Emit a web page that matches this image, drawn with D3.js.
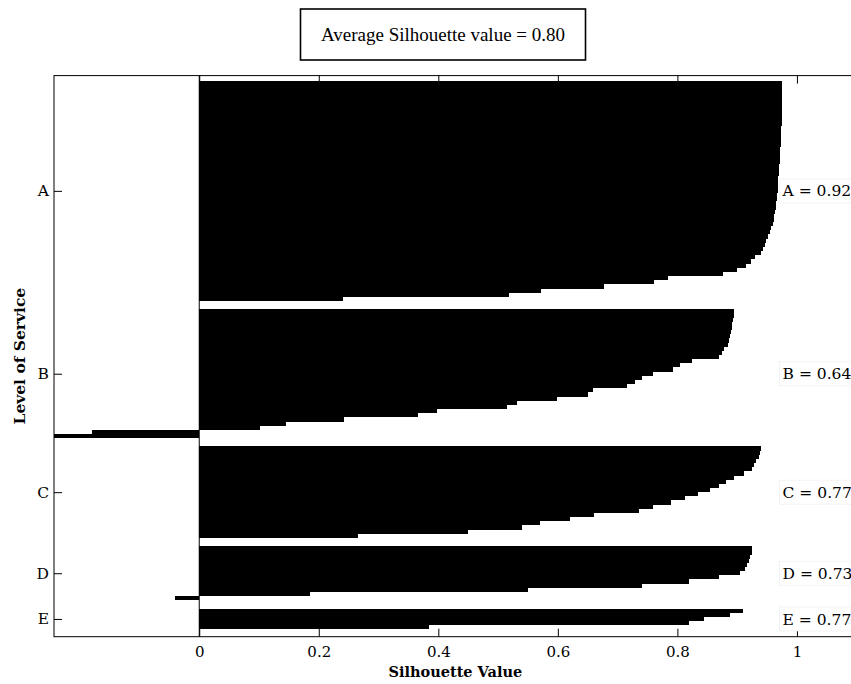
<!DOCTYPE html>
<html>
<head>
<meta charset="utf-8">
<script src="https://cdn.jsdelivr.net/npm/d3@7"></script>
<style>
  html, body { margin: 0; padding: 0; background: #fff; }
  svg { display: block; }
</style>
</head>
<body>
<svg id="chart" width="851" height="684"></svg>
<script>
// Cluster names and their mean silhouette values
const clusterNames = ["A", "B", "C", "D", "E"];
const clusterMeans = [0.92, 0.64, 0.77, 0.73, 0.77];
const averageSilhouette = 0.80;

// Per-point silhouette values, sorted descending inside each cluster
const silA = [0.975, 0.975, 0.975, 0.975, 0.975, 0.975, 0.975, 0.975, 0.975, 0.975,
              0.975, 0.974, 0.974, 0.974, 0.973, 0.973, 0.972, 0.972, 0.971, 0.971,
              0.970, 0.970, 0.970, 0.969, 0.969, 0.969, 0.968, 0.967, 0.966, 0.965,
              0.965, 0.964, 0.962, 0.961, 0.960, 0.957, 0.955, 0.952, 0.949, 0.946,
              0.943, 0.940, 0.930, 0.923, 0.915, 0.900, 0.877, 0.785, 0.761, 0.678,
              0.572, 0.519, 0.240];
const silB = [0.894, 0.894, 0.893, 0.892, 0.891, 0.889, 0.888, 0.886, 0.884, 0.878,
              0.874, 0.870, 0.824, 0.805, 0.793, 0.760, 0.741, 0.729, 0.715, 0.659,
              0.651, 0.598, 0.531, 0.515, 0.397, 0.366, 0.243, 0.145, 0.101, -0.180,
              -0.300];
const silC = [0.940, 0.938, 0.936, 0.932, 0.928, 0.924, 0.912, 0.895, 0.882, 0.870,
              0.855, 0.835, 0.812, 0.790, 0.760, 0.735, 0.660, 0.620, 0.570, 0.540,
              0.450, 0.265];
const silD = [0.925, 0.924, 0.922, 0.920, 0.917, 0.913, 0.905, 0.870, 0.820, 0.740,
              0.550, 0.185, -0.040];
const silE = [0.910, 0.888, 0.845, 0.820, 0.385];

// Axis ticks
const xTicks = [0, 0.2, 0.4, 0.6, 0.8, 1];
const xTickLabels = ["0", "0.2", "0.4", "0.6", "0.8", "1"];

// ---- layout ----
const W = 851, H = 684;
const plot = { left: 54, top: 75.6, right: 856.7, bottom: 636.7 };
const gapUnits = 2;      // empty rows between clusters
const topPad = 1.23;     // empty space above the first cluster (in rows)
const bottomPad = 1.77;  // empty space below the last cluster (in rows)

const serif = "'DejaVu Serif', 'Liberation Serif', serif";
const times = "'Liberation Serif', 'Times New Roman', serif";

const seriesList = [silA, silB, silC, silD, silE];
const clusters = clusterNames.map((name, i) => ({ name, values: seriesList[i], mean: clusterMeans[i] }));

// stack the clusters top to bottom, one row unit per point
let u = topPad;
const rows = [];
clusters.forEach(c => {
  c.start = u;
  c.values.forEach((v, j) => rows.push({ v, u: u + j, name: c.name }));
  u += c.values.length;
  c.center = (c.start + u) / 2;
  u += gapUnits;
});
const totalUnits = u - gapUnits + bottomPad;

const x = d3.scaleLinear().domain([-0.243, 1.1]).range([plot.left, plot.right]);
const y = d3.scaleLinear().domain([0, totalUnits]).range([plot.top, plot.bottom]);

const svg = d3.select("#chart");
svg.append("rect").attr("width", W).attr("height", H).attr("fill", "#fff");

svg.append("defs").append("clipPath").attr("id", "plot-clip")
  .append("rect")
  .attr("x", plot.left).attr("y", plot.top)
  .attr("width", plot.right - plot.left).attr("height", plot.bottom - plot.top);

// ---- bars ----
const barG = svg.append("g").attr("clip-path", "url(#plot-clip)");
barG.selectAll("rect.bar").data(rows).join("rect")
  .attr("class", "bar")
  .attr("x", d => x(Math.min(0, d.v)))
  .attr("width", d => Math.abs(x(d.v) - x(0)))
  .attr("y", d => y(d.u))
  .attr("height", d => y(d.u + 1) - y(d.u))
  .attr("fill", "#000")
  .attr("shape-rendering", "crispEdges");

// zero baseline across the whole plot
svg.append("line")
  .attr("x1", x(0)).attr("x2", x(0))
  .attr("y1", plot.top).attr("y2", plot.bottom)
  .attr("stroke", "#000").attr("stroke-width", 1);

// ---- axes ----
const xAxis = d3.axisBottom(x)
  .tickValues(xTicks)
  .tickFormat((d, i) => xTickLabels[i])
  .tickSizeInner(-8).tickSizeOuter(0).tickPadding(10);

const gx = svg.append("g").attr("transform", `translate(0,${plot.bottom})`).call(xAxis);
gx.select(".domain").remove();
gx.selectAll("text").attr("font-family", serif).attr("font-size", 15).attr("fill", "#000");
gx.selectAll("line").attr("stroke", "#000");

const xAxisTop = d3.axisTop(x).tickValues(xTicks).tickFormat("").tickSizeInner(-8).tickSizeOuter(0);
const gxt = svg.append("g").attr("transform", `translate(0,${plot.top})`).call(xAxisTop);
gxt.select(".domain").remove();
gxt.selectAll("line").attr("stroke", "#000");

const yAxis = d3.axisLeft(y)
  .tickValues(clusters.map(c => c.center))
  .tickFormat((d, i) => clusterNames[i])
  .tickSizeInner(-8).tickSizeOuter(0).tickPadding(5);
const gy = svg.append("g").attr("transform", `translate(${plot.left},0)`).call(yAxis);
gy.select(".domain").remove();
gy.selectAll("text").attr("font-family", serif).attr("font-size", 15.5).attr("fill", "#000");
gy.selectAll("line").attr("stroke", "#000");

// frame
svg.append("rect")
  .attr("x", plot.left).attr("y", plot.top)
  .attr("width", plot.right - plot.left).attr("height", plot.bottom - plot.top)
  .attr("fill", "none").attr("stroke", "#000").attr("stroke-width", 1);

// axis titles
svg.append("text")
  .attr("x", (plot.left + plot.right) / 2).attr("y", 677)
  .attr("text-anchor", "middle")
  .attr("font-family", serif).attr("font-size", 14.5).attr("font-weight", "bold")
  .attr("fill", "#000")
  .text("Silhouette Value");

svg.append("text")
  .attr("transform", `translate(25,${(plot.top + plot.bottom) / 2}) rotate(-90)`)
  .attr("text-anchor", "middle")
  .attr("font-family", serif).attr("font-size", 15.5).attr("font-weight", "bold")
  .attr("fill", "#000")
  .text("Level of Service");

// ---- cluster mean labels on the right ----
const labelG = svg.append("g");
clusters.forEach(c => {
  const cy = y(c.center);
  const lx = x(0.976);
  labelG.append("rect")
    .attr("x", lx - 3).attr("y", cy - 12)
    .attr("width", 110).attr("height", 24)
    .attr("fill", "#fff").attr("stroke", "#f0f0f0").attr("stroke-width", 0.8);
  labelG.append("text")
    .attr("x", lx).attr("y", cy).attr("dy", "0.36em")
    .attr("font-family", serif).attr("font-size", 15.5)
    .attr("fill", "#000")
    .text(`${c.name} = ${c.mean.toFixed(2)}`);
});

// ---- title box ----
const titleG = svg.append("g");
titleG.append("rect")
  .attr("x", 300.5).attr("y", 9).attr("width", 285).attr("height", 51)
  .attr("fill", "#fff").attr("stroke", "#000").attr("stroke-width", 1.6);
titleG.append("text")
  .attr("x", 443).attr("y", 41)
  .attr("text-anchor", "middle")
  .attr("font-family", times).attr("font-size", 19)
  .attr("fill", "#000")
  .text(`Average Silhouette value = ${averageSilhouette.toFixed(2)}`);
</script>
</body>
</html>
